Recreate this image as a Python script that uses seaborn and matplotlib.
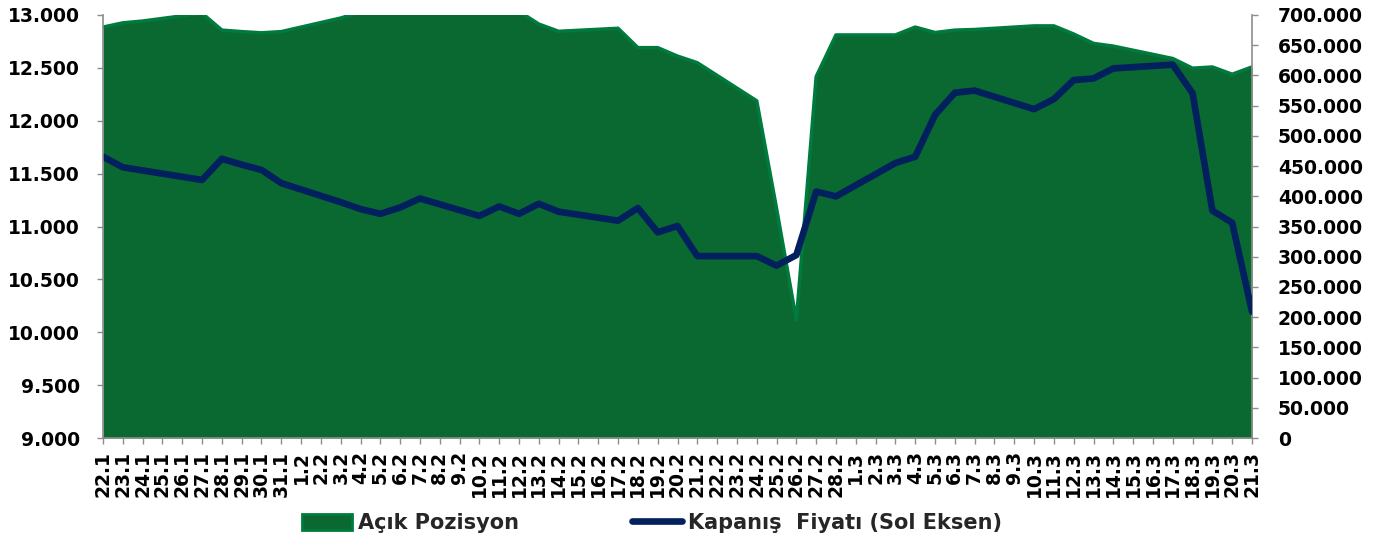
import pandas as pd
import matplotlib
matplotlib.use('Agg')
import matplotlib.pyplot as plt
from matplotlib.patches import Patch
from matplotlib.lines import Line2D
from matplotlib.ticker import FuncFormatter
import seaborn as sns

# trading days (2025)
dates = ['2025-01-22', '2025-01-23', '2025-01-24', '2025-01-27', '2025-01-28',
         '2025-01-29', '2025-01-30', '2025-01-31', '2025-02-03', '2025-02-04',
         '2025-02-05', '2025-02-06', '2025-02-07', '2025-02-10', '2025-02-11',
         '2025-02-12', '2025-02-13', '2025-02-14', '2025-02-17', '2025-02-18',
         '2025-02-19', '2025-02-20', '2025-02-21', '2025-02-24', '2025-02-25',
         '2025-02-26', '2025-02-27', '2025-02-28', '2025-03-03', '2025-03-04',
         '2025-03-05', '2025-03-06', '2025-03-07', '2025-03-10', '2025-03-11',
         '2025-03-12', '2025-03-13', '2025-03-14', '2025-03-17', '2025-03-18',
         '2025-03-19', '2025-03-20', '2025-03-21']

# Kapanış fiyatı (left axis)
price = [11660, 11560, 11530, 11440, 11640,
         11585, 11535, 11410, 11230, 11165,
         11120, 11180, 11265, 11100, 11190,
         11120, 11215, 11140, 11055, 11175,
         10945, 11005, 10720, 10720, 10630,
         10730, 11330, 11285, 11600, 11660,
         12055, 12265, 12285, 12110, 12205,
         12385, 12400, 12495, 12530, 12260,
         11150, 11035, 10195]

# Açık pozisyon (right axis), values above 700.000 are cut by the axis
open_interest = [680000, 687000, 690000, 703000, 675000,
                 672500, 670500, 672500, 695000, 705000,
                 712000, 715000, 718000, 720000, 716000,
                 706000, 685000, 673000, 678000, 646000,
                 646000, 632000, 621000, 558000, 380000,
                 195000, 598000, 667000, 667000, 680000,
                 671000, 675000, 676000, 682000, 682000,
                 668500, 653000, 648500, 628000, 612000,
                 614000, 602000, 614000]

tick_labels = ['22.1', '23.1', '24.1', '25.1', '26.1', '27.1', '28.1', '29.1', '30.1', '31.1',
               '1.2', '2.2', '3.2', '4.2', '5.2', '6.2', '7.2', '8.2', '9.2', '10.2',
               '11.2', '12.2', '13.2', '14.2', '15.2', '16.2', '17.2', '18.2', '19.2', '20.2',
               '21.2', '22.2', '23.2', '24.2', '25.2', '26.2', '27.2', '28.2',
               '1.3', '2.3', '3.3', '4.3', '5.3', '6.3', '7.3', '8.3', '9.3', '10.3',
               '11.3', '12.3', '13.3', '14.3', '15.3', '16.3', '17.3', '18.3', '19.3', '20.3', '21.3']

FILL_GREEN = '#0A6931'
EDGE_GREEN = '#007A3D'
NAVY = '#03205E'
GREY = '#8C8C8C'


def tr_thousands(v, pos):
    return f'{int(round(v)):,}'.replace(',', '.')


def main():
    df = pd.DataFrame({'Tarih': pd.to_datetime(dates),
                       'Fiyat': price,
                       'Pozisyon': open_interest})
    tick_days = pd.date_range(df['Tarih'].iloc[0], df['Tarih'].iloc[-1], freq='D')

    sns.set_theme(style='ticks')
    plt.rcParams['font.family'] = ['DejaVu Sans']
    plt.rcParams['font.weight'] = 'bold'

    fig = plt.figure(figsize=(13.87, 5.46), dpi=100)
    ax = fig.add_axes([103 / 1387, 1 - 438 / 546, (1252 - 103) / 1387, (438 - 15) / 546])
    ax_oi = ax.twinx()
    ax.set_zorder(ax_oi.get_zorder() + 1)
    ax.patch.set_visible(False)

    # open interest area on the right axis
    ax_oi.fill_between(df['Tarih'], df['Pozisyon'], color=FILL_GREEN, lw=0)
    sns.lineplot(data=df, x='Tarih', y='Pozisyon', ax=ax_oi, color=EDGE_GREEN, lw=2.5)

    # closing price on the left axis
    sns.lineplot(data=df, x='Tarih', y='Fiyat', ax=ax, color=NAVY, lw=4.8)

    ax.set_xlim(tick_days[0], tick_days[-1])
    ax.set_ylim(9000, 13000)
    ax_oi.set_ylim(0, 700000)

    ax.set_yticks(range(9000, 13001, 500))
    ax_oi.set_yticks(range(0, 700001, 50000))
    ax.yaxis.set_major_formatter(FuncFormatter(tr_thousands))
    ax_oi.yaxis.set_major_formatter(FuncFormatter(tr_thousands))
    ax.set_xticks(tick_days)
    ax.set_xticklabels(tick_labels, rotation=90, fontsize=13.5, fontweight='bold', color='black')

    for a in (ax, ax_oi):
        a.set_xlabel('')
        a.set_ylabel('')
        for s in a.spines.values():
            s.set_visible(False)
    ax.spines['left'].set_visible(True)
    ax.spines['bottom'].set_visible(True)
    ax_oi.spines['right'].set_visible(True)
    for s in (ax.spines['left'], ax.spines['bottom'], ax_oi.spines['right']):
        s.set_color(GREY)
        s.set_linewidth(1.2)

    ax.tick_params(axis='y', labelsize=13.5, length=4.5, width=1, color=GREY, pad=12,
                   labelcolor='black')
    ax.tick_params(axis='x', length=4.5, width=1, color=GREY, pad=5)
    ax_oi.tick_params(axis='y', labelsize=13.5, length=4.5, width=1, color=GREY, pad=14,
                      labelcolor='black')
    for lab in ax.get_yticklabels() + ax_oi.get_yticklabels():
        lab.set_fontweight('bold')

    handles = [Patch(facecolor=FILL_GREEN, edgecolor=EDGE_GREEN, lw=2),
               Line2D([], [], color=NAVY, lw=4.8, solid_capstyle='round')]
    fig.legend(handles, ['Açık Pozisyon', 'Kapanış  Fiyatı (Sol Eksen)'],
               loc='center', bbox_to_anchor=(0.470, 0.042), ncol=2, frameon=False,
               prop={'size': 15, 'weight': 'bold'}, handlelength=2.4, handleheight=0.85,
               handletextpad=0.3, columnspacing=5.4)

    fig.savefig('out.png', dpi=100)
    plt.close(fig)


if __name__ == '__main__':
    main()
